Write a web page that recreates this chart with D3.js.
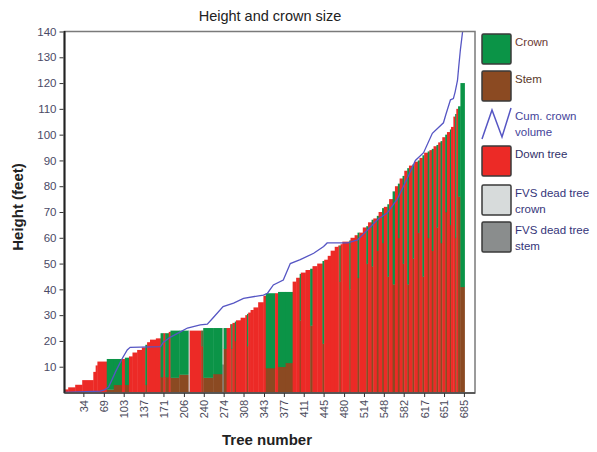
<!DOCTYPE html>
<html><head><meta charset="utf-8">
<script src="https://cdn.jsdelivr.net/npm/d3@7"></script>
<style>
body{margin:0;background:#fff}
svg{display:block}
text{font-family:"Liberation Sans",Arial,sans-serif}
</style>
</head><body>
<svg id="c" width="597" height="452"></svg>
<script>
// ---- data ----
// runs of consecutive trees (sorted by height): end tree number, total height, crown base (stem top), kind
// kind: D = down tree, L = live tree (stem + crown), F = FVS dead tree
const runEnd  = [8,20,32,51,55,58,74,86,100,105,112,118,126,134,140,143,148,158,166,171,174,180,183,198,214,216,236,238,239,256,272,274,279,285,287,289,293,295,303,311,314,316,320,325,333,342,346,362,367,380,392,398,404,406,414,422,426,434,443,446,452,457,464,470,472,474,477,489,491,
                 498,503,506,512,518,521,527,530,536,539,545,548,554,557,563,567,572,575,580,583,588,591,597,600,606,609,614,617,623,626,630,633,638,641,645,648,653,656,661,663,667,670,672,675,679,686];
const runTop  = [1.2,2,3,4.8,8,10.5,12,13,13,13,13.5,14,15.5,16.5,17.5,18.5,19.5,20.5,21,23,23,23,23.5,24,24,24,24,24,24,25,25,25,25,25,26.5,26.5,27,27.5,28,29,30,30.5,31,32,33,35,37.5,38.5,38.5,39,39,43,44.5,46,46.5,47.5,48,49,50,51,51.5,53,55,56.5,57,57,57.5,58.5,59,
                 60,61,62,62,64,64.5,66,67,67.5,68.5,70,71.5,72,73,75,78,80,81,83,84,86,87,88,88.5,89.5,90,91,92,93,93.5,94,94.5,95.5,96,97,97.5,99,100,101,102,103,107,108,110,111,120];
const runBase = [0,0,0,0,0,0,0,1.2,3,0,3,0,0,0,0,3,0,0,0,6,0,6,0,5.8,7,0.5,0,18,0,5.8,7.2,11,17,0,0,17,0,20,0,0,0,18,0,0,0,0,0,9.5,0,10,11.5,0,0,28,0,0,26,0,0,19,0,0,0,0,0,43,0,0,40,
                 0,0,44.5,0,0,50,0,49,0,55,0,58,0,45,0,42,0,60,0,50,0,42,0,52,0,62,0,45,0,60,0,55,0,64,0,58,0,70,0,65,0,0,60,0,76,41];
const runKind = ["D","D","D","D","D","D","D","L","L","D","L","D","D","D","D","L","D","D","D","L","D","L","D","L","L","F","D","L","D","L","L","F","L","D","D","L","D","L","D","D","D","L","D","D","D","D","D","L","D","L","L","D","D","L","D","D","L","D","D","L","D","D","D","D","D","L","D","D","L",
                 "D","D","L","D","D","L","D","L","D","L","D","L","D","L","D","L","D","L","D","L","D","L","D","L","D","L","D","L","D","L","D","L","D","L","D","L","D","L","D","L","D","D","L","D","L","L"];

// cumulative crown volume (scaled to height axis)
const lineTree = [0,63,70,77,89,100,109,114,166,171,183,200,212,234,246,256,273,291,308,342,349,359,376,388,405,428,445,451,486,503,520,537,554,571,588,602,616,631,650,654,662,667,670,674,676,679,686];
const lineVol  = [0,0.5,1,2,8,13,16.5,17.5,17.8,19.5,21.5,23.5,25,26.2,26.5,29,33.3,34.7,36.5,37.8,38.5,41.7,43.6,50,51.5,54,56.6,58,58,59.2,63,67,69.7,75,83,90,93,100.5,104.6,107.7,113.5,114,116.6,121,126,133,146];

const yTicks = [10,20,30,40,50,60,70,80,90,100,110,120,130,140];
const xTickVals = [34,69,103,137,171,206,240,274,308,343,377,411,445,480,514,548,582,617,651,685];

const legendNames = [["Crown"],["Stem"],["Cum. crown","volume"],["Down tree"],["FVS dead tree","crown"],["FVS dead tree","stem"]];

// ---- drawing ----
const col = {crown:"#0b9447", stem:"#8b4a22", down:"#ec2a26", fvsCrown:"#d7dbdb", fvsStem:"#8a8d8d", line:"#5656c4"};
const svg = d3.select("#c");
const L = 64.5, R = 475, T = 31.5, B = 393;
const x = d3.scaleLinear().domain([0,686]).range([63.5,464.5]);
const y = d3.scaleLinear().domain([0,140]).range([392.5,31.5]);

svg.append("defs").append("clipPath").attr("id","pc")
  .append("rect").attr("x",L).attr("y",T).attr("width",R-L).attr("height",B-T);

const runs = runEnd.map((e,i)=>({s: i? runEnd[i-1]:0, e, top:runTop[i], base:runBase[i], k:runKind[i]}));
const gb = svg.append("g").attr("clip-path","url(#pc)");
runs.forEach(r=>{
  const x0 = x(r.s), w = x(r.e)-x(r.s)+0.4;
  if (r.k==="D") {
    gb.append("rect").attr("x",x0).attr("width",w).attr("y",y(r.top)).attr("height",y(0)-y(r.top)).attr("fill",col.down);
  } else {
    const lo = r.k==="L"?col.stem:col.fvsStem, hi = r.k==="L"?col.crown:col.fvsCrown;
    gb.append("rect").attr("x",x0).attr("width",w).attr("y",y(r.base)).attr("height",y(0)-y(r.base)).attr("fill",lo);
    gb.append("rect").attr("x",x0).attr("width",w).attr("y",y(r.top)).attr("height",y(r.base)-y(r.top)+0.3).attr("fill",hi);
  }
});

gb.append("path").datum(lineTree.map((t,i)=>[t,lineVol[i]]))
  .attr("d", d3.line().x(d=>x(d[0])).y(d=>y(d[1])))
  .attr("fill","none").attr("stroke",col.line).attr("stroke-width",1.3);

// frame
svg.append("rect").attr("x",L).attr("y",T).attr("width",R-L).attr("height",B-T)
  .attr("fill","none").attr("stroke","#7a7a7a").attr("stroke-width",1.5);
svg.append("line").attr("x1",L).attr("x2",L).attr("y1",T-0.5).attr("y2",B).attr("stroke","#222").attr("stroke-width",2);
svg.append("line").attr("x1",L).attr("x2",R).attr("y1",B).attr("y2",B).attr("stroke","#444").attr("stroke-width",1.5);

// y axis
const ya = svg.append("g").attr("transform",`translate(${L-1},0)`)
  .call(d3.axisLeft(y).tickValues(yTicks).tickSize(4).tickPadding(3));
ya.select(".domain").remove();
ya.selectAll("line").attr("stroke","#333");
ya.selectAll("text").attr("font-size","11.5px").attr("fill","#4a4a66").attr("font-family","Liberation Sans, Arial, sans-serif");

// x axis
const xa = svg.append("g").attr("transform",`translate(0,${B})`)
  .call(d3.axisBottom(x).tickValues(xTickVals).tickSize(4).tickPadding(3));
xa.select(".domain").remove();
xa.selectAll("line").attr("stroke","#333");
xa.selectAll("text").attr("font-size","11px").attr("fill","#4a4a5a").attr("font-family","Liberation Sans, Arial, sans-serif")
  .attr("transform","rotate(-90)").attr("text-anchor","end").attr("dy","0.35em").attr("x",-7).attr("y",0);

// titles
svg.append("text").attr("x",270).attr("y",21).attr("text-anchor","middle").attr("font-size","14.5px").attr("fill","#222").text("Height and crown size");
svg.append("text").attr("transform","translate(23,207) rotate(-90)").attr("text-anchor","middle").attr("font-size","15px").attr("font-weight","bold").attr("fill","#222").text("Height (feet)");
svg.append("text").attr("x",267).attr("y",445).attr("text-anchor","middle").attr("font-size","15px").attr("font-weight","bold").attr("fill","#222").text("Tree number");

// legend
const lgFill = [col.crown, col.stem, null, col.down, col.fvsCrown, col.fvsStem];
const lgY = [34, 71, 108, 146, 185, 222];
const lgTextCol = ["#6b3a34","#5a3a2a","#44449a","#30306a","#35357a","#35357a"];
const lg = svg.append("g");
legendNames.forEach((names,i)=>{
  const yy = lgY[i];
  if (lgFill[i]) {
    lg.append("rect").attr("x",482).attr("y",yy).attr("width",29).attr("height",30).attr("rx",1.5)
      .attr("fill",lgFill[i]).attr("stroke","#3a3a3a").attr("stroke-width",1.5);
  } else {
    lg.append("path").attr("d",`M482,${yy+31} L492,${yy+2} L502,${yy+29} L511,${yy}`)
      .attr("fill","none").attr("stroke",col.line).attr("stroke-width",1.5);
  }
  names.forEach((n,j)=>{
    lg.append("text").attr("x",515).attr("y",yy+12+j*16).attr("font-size","11.5px").attr("fill",lgTextCol[i]).text(n);
  });
});
</script>
</body></html>
